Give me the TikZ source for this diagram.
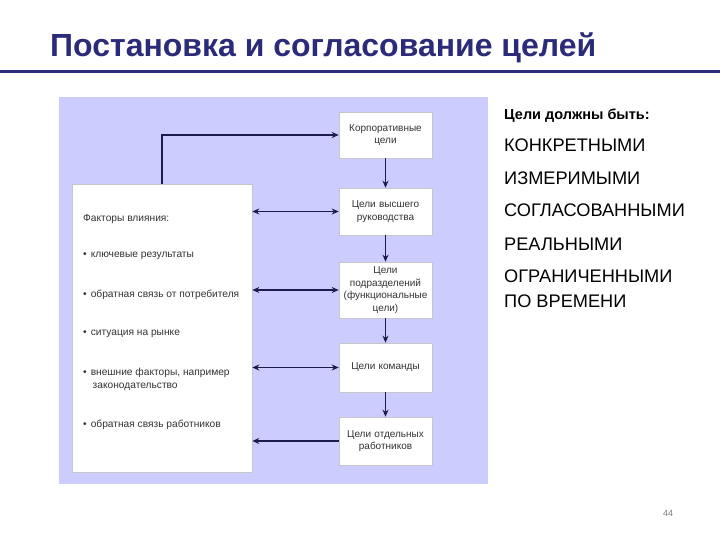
\documentclass[tikz,border=0pt]{standalone}
\usepackage{fontspec}
\setmainfont{Liberation Sans}
\usepackage{xcolor}
\definecolor{title-blue}{HTML}{2B2B7A}
\definecolor{panel-lilac}{HTML}{CCCCFF}
\definecolor{link-navy}{HTML}{1C1C4C}
\definecolor{body-grey}{HTML}{333333}
\usetikzlibrary{arrows.meta}

\tikzset{
  goalbox/.style={draw=gray!45, line width=0.6pt, fill=white, rectangle,
    minimum width=93, text width=90, align=center, inner sep=1pt,
    font=\fontsize{10}{12.5}\selectfont, text=body-grey},
  link/.style={draw=link-navy, line width=1.4pt, -{Stealth[length=7pt,width=6pt]}},
  duallink/.style={link, {Stealth[length=7pt,width=6pt]}-{Stealth[length=7pt,width=6pt]}},
  factortext/.style={anchor=base west, inner sep=0pt, text=body-grey,
    font=\fontsize{10.2}{12}\selectfont},
  listtext/.style={anchor=base west, inner sep=0pt,
    font=\fontsize{18.2}{20}\selectfont}
}

\begin{document}
\begin{tikzpicture}[x=1pt, y=-1pt]
    \useasboundingbox (0,0) rectangle (720,540);
    \fill[white] (0,0) rectangle (720,540);
    % title and rule
    \node[anchor=base west, inner sep=0pt, text=title-blue,
      font=\fontsize{32}{35}\selectfont\bfseries] (title) at (50,57)
      {Постановка и согласование целей};
    \fill[title-blue] (0,70.5) rectangle (720,73.5);
    % panel
    \fill[panel-lilac] (59,97) rectangle (488,484);
    \node[draw=gray!45, line width=0.6pt, fill=white, minimum width=180,
      minimum height=288, inner sep=0pt] (factors) at (162,328) {};
    \node[factortext] (f0) at (83,222) {Факторы влияния:};
    \node[factortext] (f1) at (83,258) {•\hspace{4pt}ключевые результаты};
    \node[factortext] (f2) at (83,297) {•\hspace{4pt}обратная связь от потребителя};
    \node[factortext] (f3) at (83,335) {•\hspace{4pt}ситуация на рынке};
    \node[factortext] (f4) at (83,375) {•\hspace{4pt}внешние факторы, например};
    \node[factortext] (f4b) at (92.5,388) {законодательство};
    \node[factortext] (f5) at (83,427) {•\hspace{4pt}обратная связь работников};
    % goal boxes
    \node[goalbox, minimum height=46] (g1) at (385.5,135) {Корпоративные\\цели};
    \node[goalbox, minimum height=47] (g2) at (385.5,211.5) {Цели высшего\\руководства};
    \node[goalbox, minimum height=56] (g3) at (385.5,290)
      {Цели\\подразделений\\(функциональные\\цели)};
    \node[goalbox, minimum height=49] (g4) at (385.5,367.5) {Цели команды};
    \node[goalbox, minimum height=48] (g5) at (385.5,441) {Цели отдельных\\работников};
    % connectors
    \draw[link] (factors.north) |- (g1.west);
    \draw[link] (g1) -- (g2);
    \draw[link] (g2) -- (g3);
    \draw[link] (g3) -- (g4);
    \draw[link] (g4) -- (g5);
    \draw[duallink] (factors.east |- g2.west) -- (g2.west);
    \draw[duallink] (factors.east |- g3.west) -- (g3.west);
    \draw[duallink] (factors.east |- g4.west) -- (g4.west);
    \draw[link] (g5.west) -- (factors.east |- g5.west);
    % right list
    \node[listtext, font=\fontsize{14.5}{17}\selectfont\bfseries] (req) at (504,120)
      {Цели должны быть:};
    \node[listtext] (r1) at (504,152) {КОНКРЕТНЫМИ};
    \node[listtext] (r2) at (504,185) {ИЗМЕРИМЫМИ};
    \node[listtext] (r3) at (504,217) {СОГЛАСОВАННЫМИ};
    \node[listtext] (r4) at (504,250) {РЕАЛЬНЫМИ};
    \node[listtext] (r5) at (504,282) {ОГРАНИЧЕННЫМИ};
    \node[listtext] (r6) at (504,307) {ПО ВРЕМЕНИ};
    \node[anchor=base west, inner sep=0pt, text=gray,
      font=\fontsize{9}{10}\selectfont] (page) at (663,516) {44};
\end{tikzpicture}
\end{document}
